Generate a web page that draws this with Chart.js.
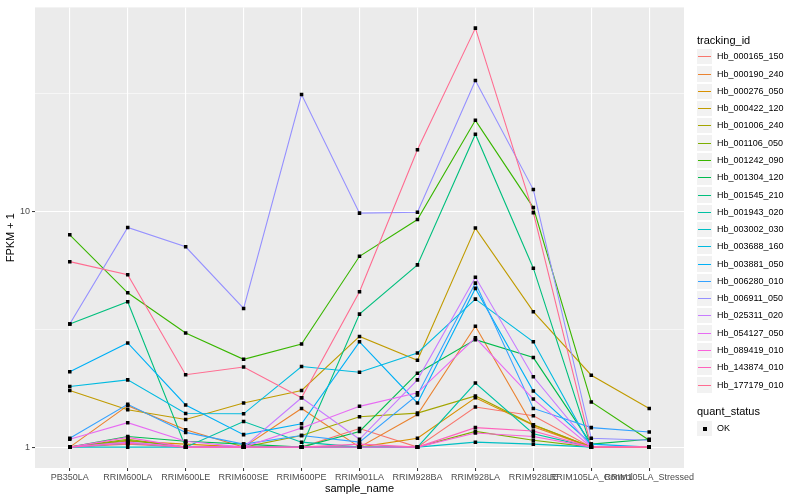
<!DOCTYPE html>
<html>
<head>
<meta charset="utf-8">
<script src="https://cdn.jsdelivr.net/npm/chart.js@4.4.1/dist/chart.umd.min.js"></script>
<style>
  html, body { margin: 0; padding: 0; background: #ffffff; }
  #wrap { position: relative; width: 800px; height: 500px; overflow: hidden; font-family: 'Liberation Sans', Arial, sans-serif; }
  #c { position: absolute; left: 0; top: 0; }
  .lg-title { position: absolute; left: 697px; font-size: 11px; line-height: 13px; color: #000; white-space: nowrap; }
  .lg-key { position: absolute; left: 696px; width: 17px; background: #F2F2F2; box-sizing: border-box; border: 1px solid #ffffff; }
  .lg-line { position: absolute; left: 1px; right: 1px; height: 1px; }
  .lg-pt { position: absolute; left: 6px; width: 4px; height: 4px; background: #000; }
  .lg-text { position: absolute; left: 717px; font-size: 9px; line-height: 11px; color: #000; white-space: nowrap; }
</style>
</head>
<body>
<div id="wrap">
  <canvas id="c" width="800" height="500"></canvas>
</div>
<script>
// ---------- data ----------
const categories = ["PB350LA","RRIM600LA","RRIM600LE","RRIM600SE","RRIM600PE","RRIM901LA","RRIM928BA","RRIM928LA","RRIM928LE","RRIM105LA_Control","RRIM105LA_Stressed"];

const Hb_000165_150 = [1.0, 1.03, 1.0, 1.0, 1.0, 1.2, 1.0, 1.48, 1.36, 1.0, 1.0];
const Hb_000190_240 = [1.0, 1.5, 1.185, 1.0, 1.46, 1.0, 1.375, 3.26, 1.22, 1.0, 1.0];
const Hb_000276_050 = [1.0, 1.06, 1.03, 1.0, 1.0, 1.0, 1.09, 1.62, 1.24, 1.0, 1.0];
const Hb_000422_120 = [1.74, 1.44, 1.31, 1.54, 1.74, 2.95, 2.34, 8.51, 3.76, 2.02, 1.46];
const Hb_001006_240 = [1.0, 1.08, 1.0, 1.0, 1.12, 1.345, 1.395, 1.65, 1.245, 1.0, 1.0];
const Hb_001106_050 = [1.0, 1.07, 1.0, 1.0, 1.0, 1.0, 1.0, 1.166, 1.07, 1.0, 1.0];
const Hb_001242_090 = [7.97, 4.52, 3.05, 2.36, 2.74, 6.46, 9.25, 24.4, 10.4, 1.556, 1.07];
const Hb_001304_120 = [1.0, 1.11, 1.06, 1.03, 1.0, 1.166, 2.06, 2.86, 2.40, 1.03, 1.08];
const Hb_001545_210 = [3.33, 4.14, 1.0, 1.0, 1.0, 3.67, 5.94, 21.3, 5.75, 1.0, 1.0];
const Hb_001943_020 = [1.0, 1.04, 1.0, 1.285, 1.05, 1.0, 1.0, 1.87, 1.14, 1.0, 1.0];
const Hb_003002_030 = [1.0, 1.0, 1.0, 1.0, 1.0, 1.0, 1.0, 1.05, 1.03, 1.0, 1.0];
const Hb_003688_160 = [1.81, 1.93, 1.39, 1.385, 2.20, 2.08, 2.51, 4.25, 2.80, 1.0, 1.0];
const Hb_003881_050 = [2.09, 2.77, 1.51, 1.13, 1.256, 2.80, 1.54, 4.72, 1.73, 1.03, 1.0];
const Hb_006280_010 = [1.09, 1.52, 1.155, 1.03, 1.12, 1.05, 1.665, 4.97, 1.46, 1.21, 1.16];
const Hb_006911_050 = [3.33, 8.56, 7.09, 3.88, 31.4, 9.85, 9.94, 36.0, 12.4, 1.09, 1.07];
const Hb_025311_020 = [1.0, 1.05, 1.0, 1.0, 1.62, 1.08, 1.93, 5.26, 1.99, 1.0, 1.0];
const Hb_054127_050 = [1.08, 1.27, 1.06, 1.0, 1.205, 1.49, 1.70, 2.91, 1.60, 1.0, 1.0];
const Hb_089419_010 = [1.0, 1.1, 1.0, 1.0, 1.0, 1.0, 1.0, 1.148, 1.11, 1.0, 1.0];
const Hb_143874_010 = [1.0, 1.04, 1.0, 1.0, 1.0, 1.03, 1.0, 1.21, 1.17, 1.0, 1.0];
const Hb_177179_010 = [6.13, 5.39, 2.03, 2.19, 1.62, 4.57, 18.3, 60.1, 9.9, 1.0, 1.0];

const seriesNames = ["Hb_000165_150","Hb_000190_240","Hb_000276_050","Hb_000422_120","Hb_001006_240","Hb_001106_050","Hb_001242_090","Hb_001304_120","Hb_001545_210","Hb_001943_020","Hb_003002_030","Hb_003688_160","Hb_003881_050","Hb_006280_010","Hb_006911_050","Hb_025311_020","Hb_054127_050","Hb_089419_010","Hb_143874_010","Hb_177179_010"];
const seriesValues = [Hb_000165_150, Hb_000190_240, Hb_000276_050, Hb_000422_120, Hb_001006_240, Hb_001106_050, Hb_001242_090, Hb_001304_120, Hb_001545_210, Hb_001943_020, Hb_003002_030, Hb_003688_160, Hb_003881_050, Hb_006280_010, Hb_006911_050, Hb_025311_020, Hb_054127_050, Hb_089419_010, Hb_143874_010, Hb_177179_010];
const yTickValues = [1, 10];
const yTickLabels = ["1", "10"];
const quantStatus = ["OK"];

// ---------- styles ----------
const palette = ["#F8766D","#EA8331","#D89000","#C09B00","#A3A500","#7CAE00","#39B600","#00BB4E","#00BF7D","#00C1A3","#00BFC4","#00BAE0","#00B0F6","#35A2FF","#9590FF","#C77CFF","#E76BF3","#FA62DB","#FF62BC","#FF6C91"];

Chart.defaults.font.family = "'Liberation Sans', Arial, sans-serif";

const datasets = seriesValues.map((vals, i) => ({
  label: seriesNames[i],
  data: vals.map((v, j) => ({ x: j, y: v })),
  borderColor: palette[i],
  backgroundColor: palette[i],
  borderWidth: 1.1,
  pointRadius: 0,
  pointHoverRadius: 0,
  tension: 0,
  fill: false,
  order: -i
}));

const allPoints = [];
seriesValues.forEach(vals => vals.forEach((v, j) => allPoints.push({ x: j, y: v })));
datasets.push({
  label: "points",
  data: allPoints,
  showLine: false,
  pointStyle: 'rect',
  pointRadius: 2.5,
  pointHoverRadius: 2.5,
  pointBorderWidth: 0,
  pointBackgroundColor: '#000000',
  pointBorderColor: '#000000',
  borderColor: '#000000',
  backgroundColor: '#000000',
  order: -100
});

const minorTicks = [Math.sqrt(10), Math.sqrt(1000)];
const isMajor = v => yTickValues.some(t => Math.abs(t - v) < 1e-9);

const panelBg = {
  id: 'panelBg',
  beforeDraw(chart) {
    const { ctx, chartArea: a } = chart;
    ctx.save();
    ctx.fillStyle = '#EBEBEB';
    ctx.fillRect(a.left, a.top, a.right - a.left, a.bottom - a.top);
    ctx.restore();
  }
};

new Chart(document.getElementById('c'), {
  type: 'line',
  data: { datasets },
  plugins: [panelBg],
  options: {
    responsive: false,
    animation: false,
    devicePixelRatio: 1,
    layout: { padding: { top: 5, right: 116, left: 0, bottom: 0 } },
    plugins: { legend: { display: false }, tooltip: { enabled: false } },
    events: [],
    scales: {
      x: {
        type: 'linear',
        min: -0.6,
        max: categories.length - 1 + 0.6,
        bounds: 'data',
        afterBuildTicks: s => { s.ticks = categories.map((c, i) => ({ value: i })); },
        afterFit: s => { s.height = 32; },
        ticks: {
          autoSkip: false, maxRotation: 0, minRotation: 0,
          color: '#4D4D4D', font: { size: 9 }, padding: 1,
          callback: v => categories[v]
        },
        grid: { color: '#FFFFFF', lineWidth: 1.1, tickColor: '#333333', tickLength: 3, tickWidth: 1 },
        border: { display: false },
        title: { display: true, text: 'sample_name', color: '#000000', font: { size: 11 }, padding: { top: 0, bottom: 4.4 } }
      },
      y: {
        type: 'logarithmic',
        min: 0.8155,
        max: 73.6,
        bounds: 'data',
        afterBuildTicks: s => {
          s.ticks = [...yTickValues, ...minorTicks].sort((a, b) => a - b).map(v => ({ value: v }));
        },
        afterFit: s => { s.width = 35; },
        ticks: {
          autoSkip: false, color: '#4D4D4D', font: { size: 9 }, padding: 2,
          callback: v => { const k = yTickValues.findIndex(t => Math.abs(t - v) < 1e-9); return k >= 0 ? yTickLabels[k] : ''; }
        },
        grid: {
          color: '#FFFFFF',
          lineWidth: c => (c.tick && isMajor(c.tick.value)) ? 1.1 : 0.55,
          tickColor: c => (c.tick && isMajor(c.tick.value)) ? '#333333' : 'rgba(0,0,0,0)',
          tickLength: 3, tickWidth: 1
        },
        border: { display: false },
        title: { display: true, text: 'FPKM + 1', color: '#000000', font: { size: 11 }, padding: { top: 4.4, bottom: 0 } }
      }
    }
  }
});

// ---------- legend (HTML) ----------
const wrap = document.getElementById('wrap');
function el(cls, css, text) {
  const d = document.createElement('div');
  d.className = cls;
  Object.assign(d.style, css);
  if (text !== undefined) d.textContent = text;
  return d;
}
const keyH = 17.28;
const firstKeyTop = 48;
wrap.appendChild(el('lg-title', { top: '34px' }, 'tracking_id'));
seriesNames.forEach((name, i) => {
  const top = Math.round(firstKeyTop + i * keyH);
  const next = Math.round(firstKeyTop + (i + 1) * keyH);
  const h = next - top;
  const key = el('lg-key', { top: top + 'px', height: h + 'px' });
  key.appendChild(el('lg-line', { background: palette[i], top: (Math.floor(h / 2) - 1) + 'px' }));
  wrap.appendChild(key);
  wrap.appendChild(el('lg-text', { top: Math.round(top + h / 2 - 5.5) + 'px' }, name));
});
wrap.appendChild(el('lg-title', { top: '405px' }, 'quant_status'));
quantStatus.forEach((q, i) => {
  const top = 420 + i * 17;
  const key = el('lg-key', { top: top + 'px', height: '17px' });
  key.appendChild(el('lg-pt', { top: '6px' }));
  wrap.appendChild(key);
  wrap.appendChild(el('lg-text', { top: Math.round(top + 8.5 - 5.5) + 'px' }, q));
});
</script>
</body>
</html>
